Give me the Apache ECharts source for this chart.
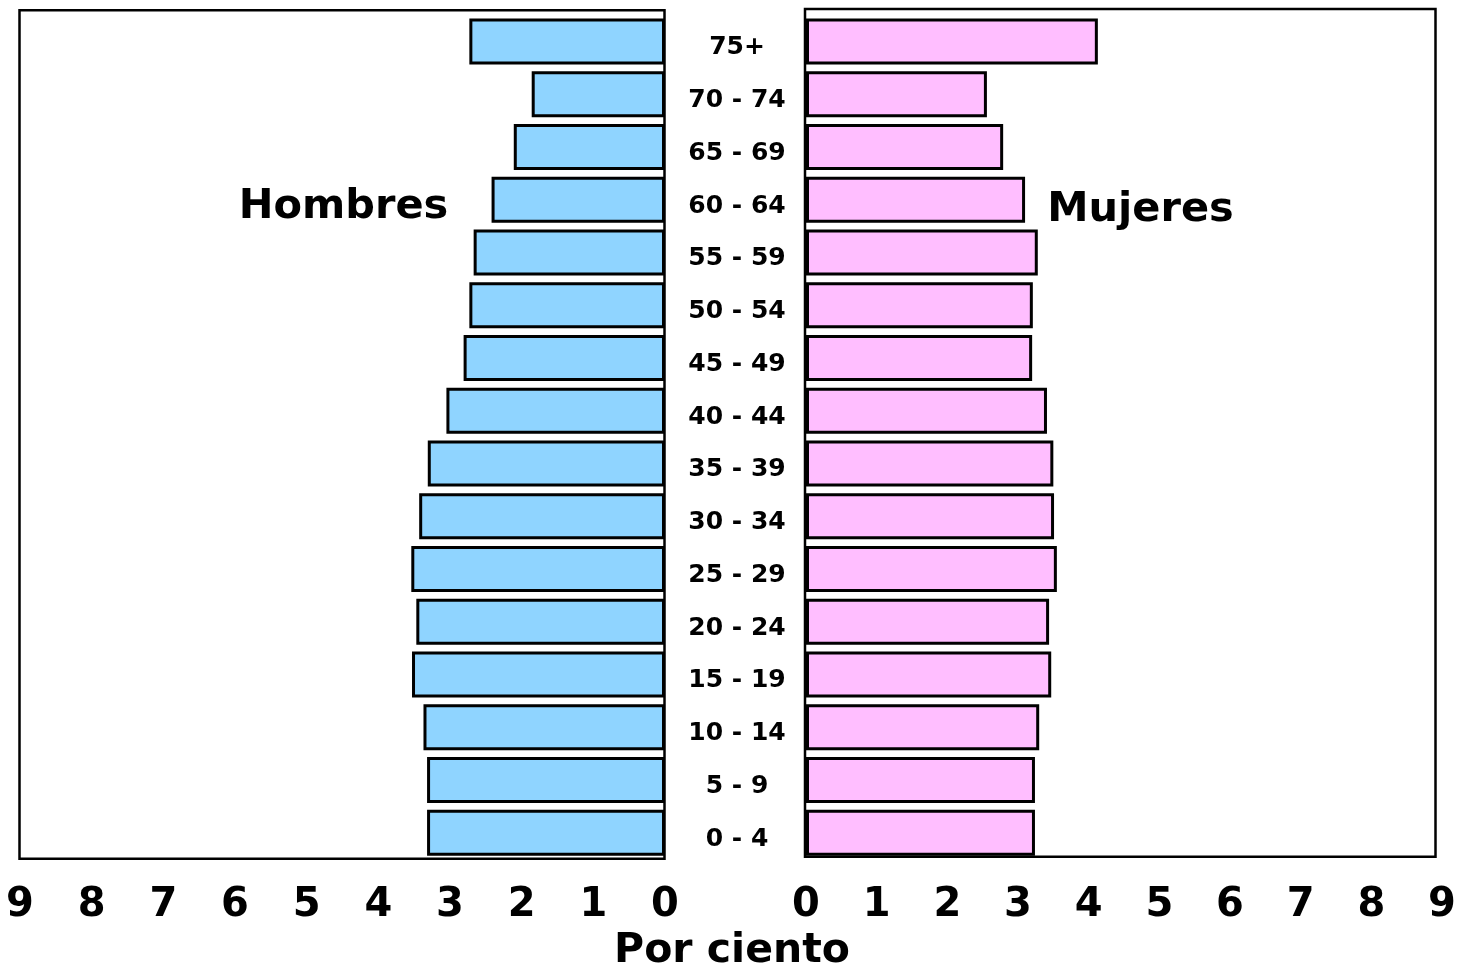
<!DOCTYPE html>
<html>
<head>
<meta charset="utf-8">
<script src="https://cdn.jsdelivr.net/npm/echarts@6/dist/echarts.min.js"></script>
<style>
html,body{margin:0;padding:0;background:#fff;}
#chart{width:1461px;height:968px;}
</style>
</head>
<body>
<div id="chart"></div>
<script>
const categories = ['0 - 4','5 - 9','10 - 14','15 - 19','20 - 24','25 - 29','30 - 34','35 - 39','40 - 44','45 - 49','50 - 54','55 - 59','60 - 64','65 - 69','70 - 74','75+'];
const hombres = [3.32,3.32,3.37,3.53,3.47,3.54,3.43,3.31,3.05,2.81,2.73,2.67,2.42,2.11,1.86,2.73];
const mujeres = [3.24,3.24,3.30,3.47,3.44,3.55,3.51,3.50,3.41,3.20,3.21,3.28,3.10,2.79,2.56,4.13];
const axisMin = 0, axisMax = 9, axisStep = 1;
const labelHombres = 'Hombres';
const labelMujeres = 'Mujeres';
const axisTitle = 'Por ciento';

const FONT = 'DejaVu Sans';
const chart = echarts.init(document.getElementById('chart'), null, {renderer:'canvas'});

const valueAxisCommon = {
  type: 'value', min: axisMin, max: axisMax, interval: axisStep,
  axisLine: {show:false}, axisTick: {show:false}, splitLine: {show:false},
  axisLabel: {fontFamily: FONT, fontWeight:'bold', fontSize: 40, color:'#000', margin: 27}
};

chart.setOption({
  animation: false,
  backgroundColor: '#fff',
  grid: [
    {left: 20, width: 645, top: 15, height: 844},
    {left: 806, width: 636, top: 15, height: 844}
  ],
  xAxis: [
    Object.assign({gridIndex: 0, inverse: true}, valueAxisCommon),
    Object.assign({gridIndex: 1}, valueAxisCommon)
  ],
  yAxis: [
    {type:'category', gridIndex:0, data: categories, show:false},
    {type:'category', gridIndex:1, data: categories,
     axisLine:{show:false}, axisTick:{show:false},
     axisLabel:{fontFamily: FONT, fontWeight:'bold', fontSize: 25, color:'#000',
                align:'center', margin: 69,
                formatter: function(v){ return '{a|' + v + '}'; },
                rich: {a: {fontFamily: FONT, fontWeight:'bold', fontSize: 25, color:'#000', padding:[13,0,0,0]}}}}
  ],
  series: [
    {type:'bar', xAxisIndex:0, yAxisIndex:0, data: hombres, barWidth: 46,
     itemStyle:{color:'#8FD4FF', borderColor:'#000', borderWidth:3}},
    {type:'bar', xAxisIndex:1, yAxisIndex:1, data: mujeres, barWidth: 46,
     itemStyle:{color:'#FFBEFF', borderColor:'#000', borderWidth:3}}
  ],
  graphic: [
    {type:'rect', z:0, shape:{x:19.5, y:10.3, width:645, height:848.4},
     style:{fill:'#fff', stroke:'#000', lineWidth:2.5}},
    {type:'rect', z:0, shape:{x:805, y:9, width:630.5, height:847.7},
     style:{fill:'#fff', stroke:'#000', lineWidth:2.5}},
    {type:'text', z:10, x:343.5, y:207,
     style:{text: labelHombres, font:'bold 41.5px "DejaVu Sans"', fill:'#000', textAlign:'center', textVerticalAlign:'middle'}},
    {type:'text', z:10, x:1140.5, y:210,
     style:{text: labelMujeres, font:'bold 41.5px "DejaVu Sans"', fill:'#000', textAlign:'center', textVerticalAlign:'middle'}},
    {type:'text', z:10, x:732, y:951,
     style:{text: axisTitle, font:'bold 41px "DejaVu Sans"', fill:'#000', textAlign:'center', textVerticalAlign:'middle'}}
  ]
});
</script>
</body>
</html>
